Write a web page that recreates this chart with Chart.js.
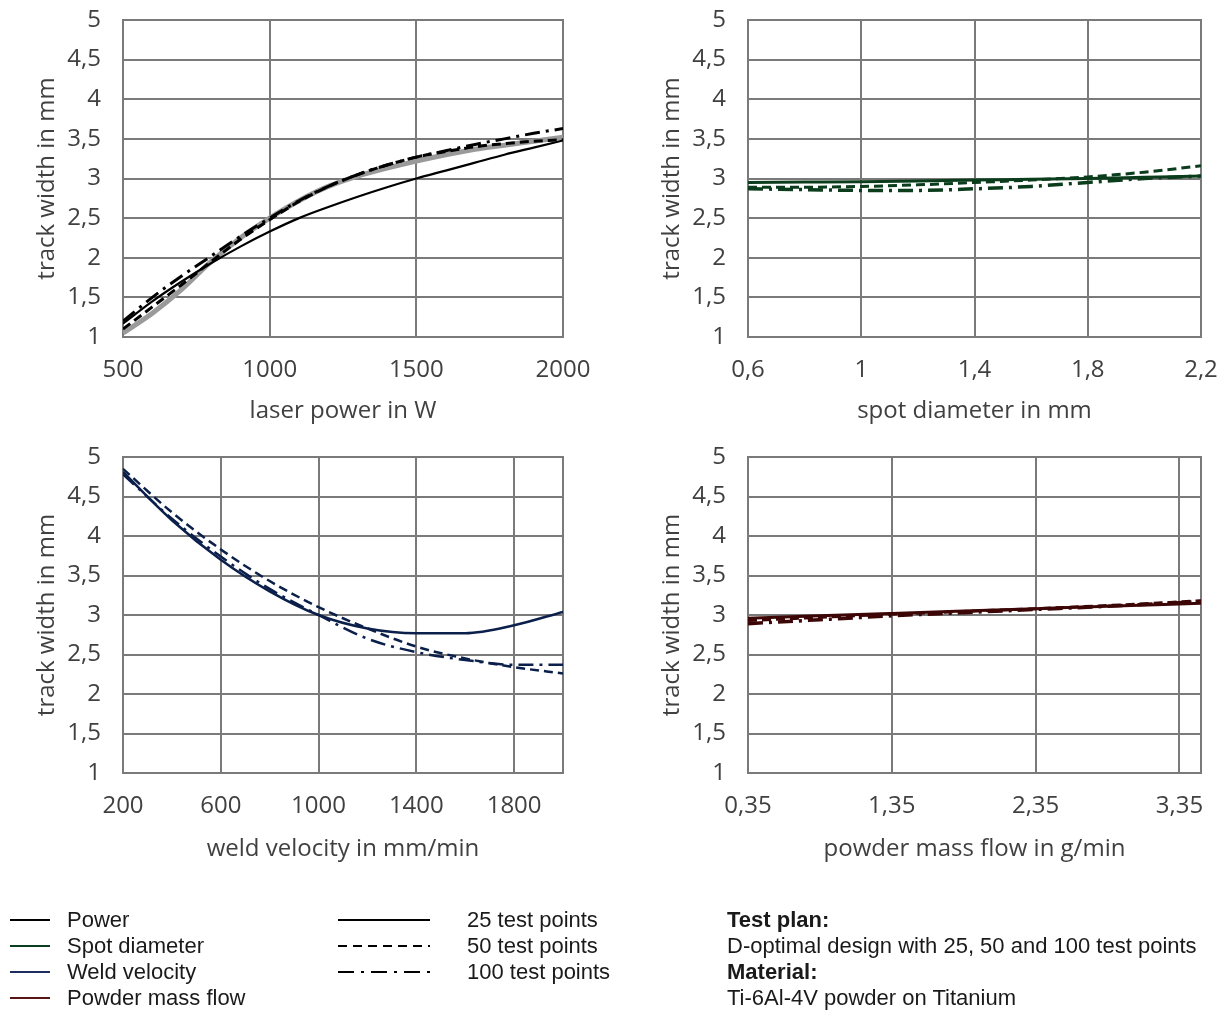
<!DOCTYPE html>
<html><head><meta charset="utf-8">
<script src="https://cdn.jsdelivr.net/npm/chart.js@4.4.0/dist/chart.umd.min.js"></script>
<style>
body{margin:0;background:#fff;width:1225px;height:1010px;position:relative;overflow:hidden;font-family:"Liberation Sans",Arial,sans-serif;}
canvas{position:absolute;}
.t{position:absolute;font-size:22px;color:#1a1a1a;line-height:26px;white-space:nowrap;}
.b{font-weight:bold;}
svg{position:absolute;left:0;top:0;}
</style></head><body>
<canvas id="c1" width="612" height="440" style="left:0;top:0"></canvas>
<canvas id="c2" width="613" height="440" style="left:612px;top:0"></canvas>
<canvas id="c3" width="612" height="440" style="left:0;top:440px"></canvas>
<canvas id="c4" width="613" height="440" style="left:612px;top:440px"></canvas>

<svg width="1225" height="1010" style="pointer-events:none">
  <line x1="10" y1="920" x2="50" y2="920" stroke="#000" stroke-width="2"/>
  <line x1="10" y1="946" x2="50" y2="946" stroke="#0b3d20" stroke-width="2"/>
  <line x1="10" y1="972" x2="50" y2="972" stroke="#1c2d5e" stroke-width="2"/>
  <line x1="10" y1="998" x2="50" y2="998" stroke="#5a1414" stroke-width="2"/>
  <line x1="338" y1="920" x2="430" y2="920" stroke="#000" stroke-width="2"/>
  <line x1="338" y1="946" x2="430" y2="946" stroke="#000" stroke-width="2" stroke-dasharray="9,6"/>
  <line x1="338" y1="972" x2="430" y2="972" stroke="#000" stroke-width="2" stroke-dasharray="16,7,3,7"/>
</svg>
<div class="t" style="left:67px;top:907px">Power</div>
<div class="t" style="left:67px;top:933px">Spot diameter</div>
<div class="t" style="left:67px;top:959px">Weld velocity</div>
<div class="t" style="left:67px;top:985px">Powder mass flow</div>
<div class="t" style="left:467px;top:907px">25 test points</div>
<div class="t" style="left:467px;top:933px">50 test points</div>
<div class="t" style="left:467px;top:959px">100 test points</div>
<div class="t b" style="left:727px;top:907px">Test plan:</div>
<div class="t" style="left:727px;top:933px">D-optimal design with 25, 50 and 100 test points</div>
<div class="t b" style="left:727px;top:959px">Material:</div>
<div class="t" style="left:727px;top:985px">Ti-6Al-4V powder on Titanium</div>

<script>
// ---- data ----
const widthTicks = [1, 1.5, 2, 2.5, 3, 3.5, 4, 4.5, 5];

const powerTicks = [500, 1000, 1500, 2000];
const powerX    = [500, 600, 700, 800, 900, 1000, 1100, 1200, 1300, 1400, 1500, 1600, 1700, 1800, 1900, 2000];
const power25   = [1.17, 1.45, 1.70, 1.93, 2.14, 2.33, 2.50, 2.64, 2.77, 2.89, 3.00, 3.10, 3.20, 3.30, 3.39, 3.48];
const power50   = [1.10, 1.38, 1.66, 1.95, 2.23, 2.48, 2.71, 2.90, 3.05, 3.17, 3.27, 3.34, 3.40, 3.44, 3.47, 3.49];
const power100  = [1.20, 1.50, 1.77, 2.02, 2.27, 2.50, 2.72, 2.90, 3.05, 3.17, 3.27, 3.35, 3.43, 3.50, 3.57, 3.63];
const powerGray = [1.05, 1.30, 1.60, 1.95, 2.25, 2.50, 2.72, 2.90, 3.03, 3.13, 3.22, 3.30, 3.37, 3.42, 3.47, 3.52];

const spotTicks = [0.6, 1, 1.4, 1.8, 2.2];
const spotX    = [0.6, 0.8, 1.0, 1.2, 1.4, 1.6, 1.8, 2.0, 2.2];
const spot25   = [2.95, 2.955, 2.96, 2.97, 2.98, 2.99, 3.00, 3.015, 3.03];
const spot50   = [2.89, 2.89, 2.90, 2.92, 2.95, 2.98, 3.02, 3.08, 3.16];
const spot100  = [2.87, 2.86, 2.85, 2.85, 2.87, 2.90, 2.95, 3.00, 3.03];

const velTicks = [200, 600, 1000, 1400, 1800];
const velX    = [200, 400, 600, 800, 1000, 1200, 1400, 1600, 1800, 2000];
const vel25   = [4.81, 4.20, 3.70, 3.30, 3.00, 2.83, 2.77, 2.77, 2.87, 3.04];
const vel50   = [4.85, 4.30, 3.83, 3.43, 3.10, 2.83, 2.60, 2.45, 2.34, 2.26];
const vel100  = [4.78, 4.22, 3.74, 3.33, 3.00, 2.70, 2.53, 2.43, 2.37, 2.37];

const flowTicks = [0.35, 1.35, 2.35, 3.35];
const flowX    = [0.35, 0.85, 1.35, 1.85, 2.35, 2.85, 3.5];
const flow25   = [2.96, 2.99, 3.02, 3.05, 3.08, 3.11, 3.15];
const flow50   = [2.93, 2.97, 3.01, 3.045, 3.08, 3.12, 3.18];
const flow100  = [2.89, 2.94, 2.99, 3.03, 3.07, 3.11, 3.17];

// ---- styling ----
const GRID = '#7a7a7a';
const TXT = '#404040';
const FONT = {family: '"Open Sans", sans-serif', size: 24, lineHeight: 1.2};
const fmt = v => String(+v.toFixed(2)).replace('.', ',');
const pts = (xs, ys) => xs.map((x, i) => ({x: x, y: ys[i]}));

const frame = {
  id: 'frame',
  beforeDatasetsDraw(chart) {
    const a = chart.chartArea, ctx = chart.ctx;
    ctx.save(); ctx.strokeStyle = GRID; ctx.lineWidth = 2;
    ctx.strokeRect(a.left, a.top, a.right - a.left, a.bottom - a.top);
    ctx.restore();
  }
};

function ds(data, color, kind, width) {
  const dash = kind === 'dash' ? [9, 5] : kind === 'dashdot' ? [15, 6, 3, 6] : [];
  return {data: data, borderColor: color, borderWidth: width, borderDash: dash,
    pointRadius: 0, fill: false, cubicInterpolationMode: 'monotone', tension: 0.4};
}

function make(id, c) {
  new Chart(document.getElementById(id), {
    type: 'line',
    data: {datasets: c.datasets},
    plugins: [frame],
    options: {
      responsive: false, animation: false, devicePixelRatio: 1,
      layout: {padding: {top: c.padTop, right: c.padRight, left: 0, bottom: 0}},
      plugins: {legend: {display: false}, tooltip: {enabled: false}},
      scales: {
        x: {
          type: 'linear', min: c.xMin, max: c.xMax,
          afterBuildTicks: ax => { ax.ticks = c.xTicks.map(v => ({value: v})); },
          afterFit: ax => { ax.height = c.xHeight; },
          grid: {color: GRID, lineWidth: 2, drawTicks: true, tickLength: 19, tickColor: 'rgba(0,0,0,0)'},
          border: {color: GRID, width: 2},
          ticks: {font: FONT, color: TXT, padding: 0, maxRotation: 0, autoSkip: false, callback: v => fmt(v)},
          title: {display: true, text: c.xTitle, font: FONT, color: TXT, padding: {top: 0, bottom: c.xTitlePad}}
        },
        y: {
          type: 'linear', min: 1, max: 5,
          afterBuildTicks: ax => { ax.ticks = widthTicks.map(v => ({value: v})); },
          afterFit: ax => { ax.width = c.yWidth; },
          grid: {color: GRID, lineWidth: 2, drawTicks: true, tickLength: 22, tickColor: 'rgba(0,0,0,0)'},
          border: {color: GRID, width: 2},
          ticks: {font: FONT, color: TXT, padding: 0, autoSkip: false, callback: v => fmt(v)},
          title: {display: true, text: 'track width in mm', font: FONT, color: TXT, padding: {top: c.yTitlePad, bottom: 0}}
        }
      }
    }
  });
}

make('c1', {
  xMin: 500, xMax: 2000, xTicks: powerTicks, xTitle: 'laser power in W',
  padTop: 20, padRight: 49, xHeight: 103, yWidth: 123, xTitlePad: 14, yTitlePad: 33,
  datasets: [
    ds(pts(powerX, power25), '#000', 'solid', 2.2),
    ds(pts(powerX, power50), '#000', 'dash', 3),
    ds(pts(powerX, power100), '#000', 'dashdot', 3),
    ds(pts(powerX, powerGray), '#9a9a9a', 'solid', 5)
  ]
});
make('c2', {
  xMin: 0.6, xMax: 2.2, xTicks: spotTicks, xTitle: 'spot diameter in mm',
  padTop: 20, padRight: 24, xHeight: 103, yWidth: 136, xTitlePad: 14, yTitlePad: 46,
  datasets: [
    ds(pts(spotX, spot25), '#0b3d1c', 'solid', 3),
    ds(pts(spotX, spot50), '#0b3d1c', 'dash', 3),
    ds(pts(spotX, spot100), '#0b3d1c', 'dashdot', 3.5)
  ]
});
make('c3', {
  xMin: 200, xMax: 2000, xTicks: velTicks, xTitle: 'weld velocity in mm/min',
  padTop: 17, padRight: 49, xHeight: 107, yWidth: 123, xTitlePad: 16, yTitlePad: 33,
  datasets: [
    ds(pts(velX, vel25), '#0b1f4b', 'solid', 2.5),
    ds(pts(velX, vel50), '#0b1f4b', 'dash', 2.5),
    ds(pts(velX, vel100), '#0b1f4b', 'dashdot', 2.5)
  ]
});
make('c4', {
  xMin: 0.35, xMax: 3.5, xTicks: flowTicks, xTitle: 'powder mass flow in g/min',
  padTop: 17, padRight: 24, xHeight: 107, yWidth: 136, xTitlePad: 16, yTitlePad: 46,
  datasets: [
    ds(pts(flowX, flow25), '#3d0606', 'solid', 3),
    ds(pts(flowX, flow50), '#3d0606', 'dash', 3),
    ds(pts(flowX, flow100), '#3d0606', 'dashdot', 3.5)
  ]
});
</script>
</body></html>
